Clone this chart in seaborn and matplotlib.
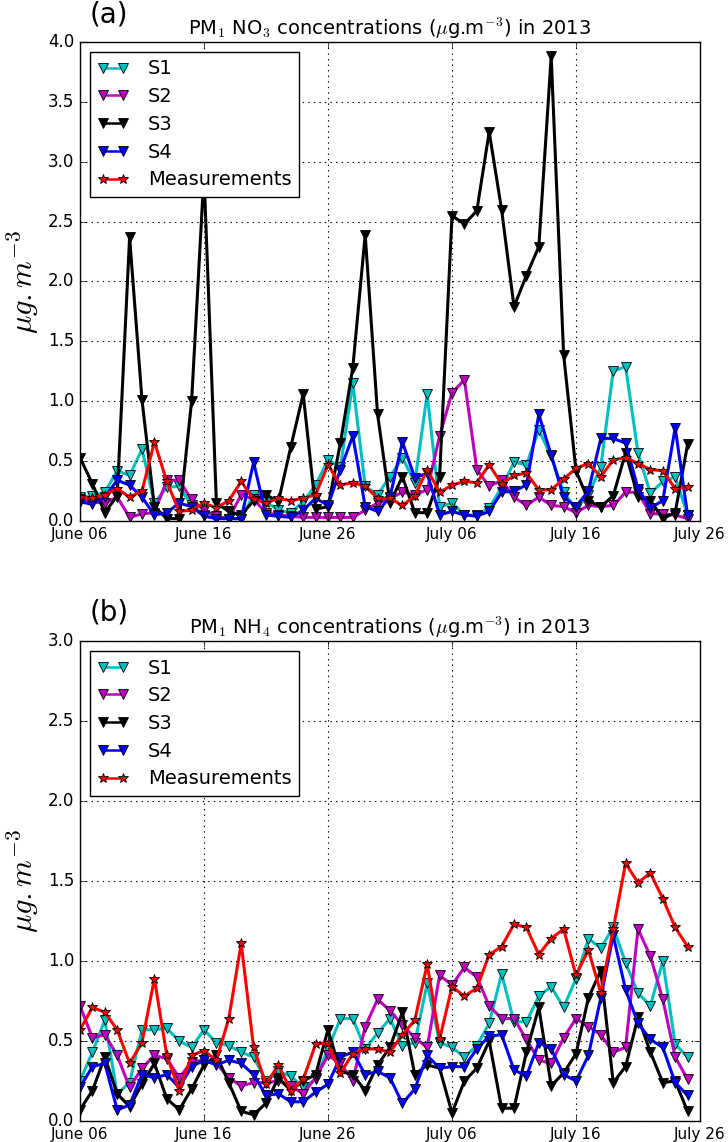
import pandas as pd
import numpy as np
import matplotlib
matplotlib.use("Agg")
import matplotlib.pyplot as plt
import matplotlib.dates as mdates
import seaborn as sns

# -----------------------------------------------
# Data (daily values, June 06 -> July 25, 2013)
# -----------------------------------------------
dates = pd.date_range("2013-06-06", periods=50, freq="D")

s1_no3 = [0.20, 0.21, 0.24, 0.42, 0.38, 0.60, 0.15, 0.28, 0.29, 0.13,
          0.05, 0.03, 0.02, 0.02, 0.22, 0.16, 0.09, 0.07, 0.16, 0.30,
          0.51, 0.45, 1.15, 0.29, 0.22, 0.37, 0.53, 0.32, 1.06, 0.12,
          0.15, 0.05, 0.05, 0.11, 0.28, 0.49, 0.47, 0.76, 0.54, 0.24,
          0.10, 0.22, 0.45, 1.25, 1.29, 0.57, 0.23, 0.33, 0.37, 0.05]
s2_no3 = [0.18, 0.16, 0.15, 0.20, 0.03, 0.06, 0.07, 0.34, 0.34, 0.18,
          0.09, 0.04, 0.02, 0.22, 0.18, 0.07, 0.05, 0.04, 0.03, 0.03,
          0.03, 0.03, 0.03, 0.09, 0.15, 0.19, 0.24, 0.22, 0.26, 0.71,
          1.07, 1.18, 0.43, 0.29, 0.34, 0.20, 0.13, 0.20, 0.13, 0.12,
          0.07, 0.13, 0.12, 0.13, 0.24, 0.24, 0.06, 0.06, 0.05, 0.02]
s3_no3 = [0.53, 0.31, 0.07, 0.21, 2.37, 1.01, 0.12, 0.02, 0.02, 1.00,
          2.90, 0.15, 0.08, 0.05, 0.17, 0.22, 0.16, 0.62, 1.06, 0.10,
          0.12, 0.65, 1.28, 2.39, 0.89, 0.15, 0.37, 0.07, 0.07, 0.37,
          2.55, 2.48, 2.59, 3.25, 2.60, 1.79, 2.05, 2.29, 3.88, 1.39,
          0.42, 0.17, 0.12, 0.21, 0.57, 0.20, 0.17, 0.02, 0.07, 0.64]
s4_no3 = [0.16, 0.14, 0.20, 0.34, 0.30, 0.20, 0.05, 0.07, 0.15, 0.12,
          0.04, 0.02, 0.02, 0.02, 0.49, 0.05, 0.04, 0.03, 0.09, 0.19,
          0.13, 0.43, 0.71, 0.12, 0.08, 0.20, 0.66, 0.36, 0.40, 0.05,
          0.08, 0.05, 0.04, 0.08, 0.24, 0.25, 0.30, 0.89, 0.55, 0.20,
          0.12, 0.25, 0.69, 0.69, 0.65, 0.27, 0.11, 0.17, 0.78, 0.05]
meas_no3 = [0.20, 0.19, 0.22, 0.27, 0.20, 0.25, 0.66, 0.33, 0.08, 0.09,
            0.15, 0.11, 0.17, 0.33, 0.18, 0.15, 0.19, 0.17, 0.19, 0.22,
            0.47, 0.30, 0.32, 0.29, 0.19, 0.19, 0.13, 0.21, 0.43, 0.24,
            0.30, 0.33, 0.32, 0.47, 0.31, 0.38, 0.40, 0.26, 0.26, 0.35,
            0.44, 0.48, 0.37, 0.51, 0.53, 0.48, 0.43, 0.42, 0.27, 0.28]

s1_nh4 = [0.25, 0.43, 0.63, 0.17, 0.24, 0.57, 0.57, 0.58, 0.50, 0.46,
          0.57, 0.49, 0.47, 0.43, 0.40, 0.25, 0.31, 0.28, 0.21, 0.26,
          0.45, 0.64, 0.64, 0.45, 0.55, 0.64, 0.47, 0.49, 0.86, 0.49,
          0.46, 0.40, 0.47, 0.61, 0.92, 0.62, 0.62, 0.78, 0.84, 0.71,
          0.89, 1.14, 1.08, 1.21, 0.99, 0.80, 0.72, 1.00, 0.48, 0.40]
s2_nh4 = [0.72, 0.52, 0.54, 0.41, 0.21, 0.33, 0.41, 0.39, 0.27, 0.37,
          0.38, 0.36, 0.27, 0.22, 0.24, 0.24, 0.25, 0.22, 0.17, 0.27,
          0.41, 0.36, 0.25, 0.59, 0.76, 0.69, 0.60, 0.52, 0.46, 0.91,
          0.85, 0.96, 0.90, 0.72, 0.64, 0.64, 0.51, 0.38, 0.36, 0.52,
          0.64, 0.59, 0.54, 0.43, 0.46, 1.20, 1.03, 0.76, 0.40, 0.26]
s3_nh4 = [0.07, 0.19, 0.40, 0.17, 0.09, 0.23, 0.36, 0.14, 0.07, 0.20,
          0.35, 0.41, 0.24, 0.06, 0.04, 0.11, 0.27, 0.19, 0.25, 0.29,
          0.57, 0.31, 0.29, 0.19, 0.35, 0.46, 0.68, 0.29, 0.35, 0.33,
          0.05, 0.25, 0.33, 0.50, 0.08, 0.08, 0.43, 0.71, 0.22, 0.30,
          0.42, 0.77, 0.94, 0.24, 0.34, 0.65, 0.43, 0.24, 0.25, 0.06]
s4_nh4 = [0.21, 0.34, 0.36, 0.07, 0.10, 0.29, 0.27, 0.29, 0.21, 0.34,
          0.38, 0.35, 0.38, 0.36, 0.29, 0.16, 0.17, 0.12, 0.12, 0.18,
          0.23, 0.40, 0.43, 0.29, 0.31, 0.27, 0.11, 0.20, 0.41, 0.33,
          0.34, 0.34, 0.45, 0.53, 0.54, 0.32, 0.28, 0.49, 0.45, 0.29,
          0.25, 0.41, 0.77, 1.16, 0.82, 0.61, 0.51, 0.46, 0.24, 0.16]
meas_nh4 = [0.57, 0.71, 0.68, 0.57, 0.36, 0.49, 0.89, 0.41, 0.19, 0.41,
            0.44, 0.38, 0.64, 1.11, 0.46, 0.23, 0.35, 0.19, 0.26, 0.48,
            0.49, 0.30, 0.42, 0.45, 0.45, 0.43, 0.54, 0.63, 0.98, 0.51,
            0.84, 0.78, 0.83, 1.04, 1.09, 1.23, 1.21, 1.04, 1.14, 1.20,
            0.91, 1.07, 0.80, 1.20, 1.61, 1.49, 1.55, 1.39, 1.21, 1.09]

labels = ["S1", "S2", "S3", "S4", "Measurements"]
colors = ["c", "m", "k", "b", "r"]
markers = ["v", "v", "v", "v", "*"]

# -----------------------------------------------
# Style
# -----------------------------------------------
plt.style.use("classic")
plt.rcParams["figure.facecolor"] = "white"
plt.rcParams["savefig.facecolor"] = "white"
plt.rcParams["font.family"] = ["DejaVu Sans"]
plt.rcParams["mathtext.fontset"] = "cm"

W, H = 728, 1142
fig = plt.figure(figsize=(W / 100, H / 100), dpi=100)

panels = [
    ("(a)", r"PM$_1$ NO$_3$ concentrations ($\mu$g.m$^{-3}$) in 2013",
     [s1_no3, s2_no3, s3_no3, s4_no3, meas_no3], 4.0, 42, 521),
    ("(b)", r"PM$_1$ NH$_4$ concentrations ($\mu$g.m$^{-3}$) in 2013",
     [s1_nh4, s2_nh4, s3_nh4, s4_nh4, meas_nh4], 3.0, 641, 1121),
]

for tag, title, series, ymax, top, bottom in panels:
    ax = fig.add_axes([80 / W, 1 - bottom / H, 620 / W, (bottom - top) / H])
    for vals, lab, col, mk in zip(series, labels, colors, markers):
        sns.lineplot(x=dates, y=vals, ax=ax, color=col, marker=mk,
                     markersize=7, markeredgecolor="k",
                     markeredgewidth=0.6, linewidth=2.2, label=lab,
                     legend=False)
    ax.set_xlim(pd.Timestamp("2013-06-06"), pd.Timestamp("2013-07-26"))
    ax.set_ylim(0, ymax)
    ax.set_yticks(np.arange(0, ymax + 0.01, 0.5))
    ax.xaxis.set_major_locator(mdates.DayLocator(bymonthday=[6, 16, 26]))
    ax.xaxis.set_major_formatter(mdates.DateFormatter("%B %d"))
    ax.tick_params(axis="x", labelsize=11)
    ax.tick_params(axis="y", labelsize=12)
    ax.grid(True, linestyle=":", color="k", linewidth=0.8)
    ax.set_xlabel("")
    ax.set_ylabel(r"$\mu g.m^{-3}$", fontsize=22)
    ax.set_title(title, fontsize=14)
    leg = ax.legend(loc="upper left", numpoints=2, fontsize=14,
                    borderaxespad=0.5, handlelength=1.6, handletextpad=1.0,
                    labelspacing=0.45)
    for h in leg.get_lines():
        h.set_linewidth(1.8)
    fig.text(90 / W, 1 - (top - 28) / H, tag, fontsize=20, va="center")

fig.savefig("out.png", dpi=100)
